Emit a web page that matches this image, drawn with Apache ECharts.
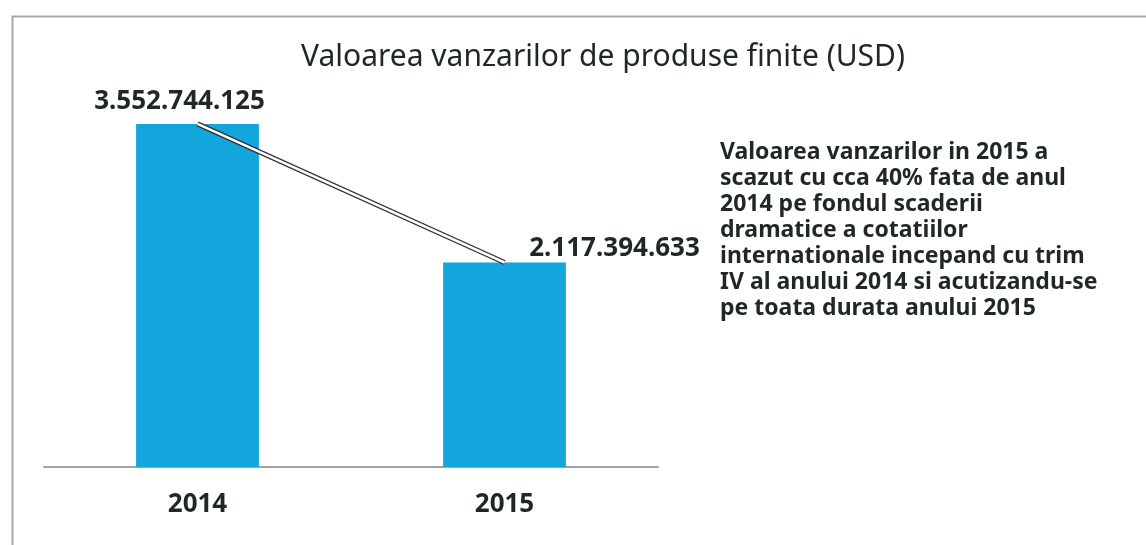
<!DOCTYPE html>
<html>
<head>
<meta charset="utf-8">
<script src="https://cdn.jsdelivr.net/npm/echarts@6/dist/echarts.min.js"></script>
<style>
  html, body { margin: 0; padding: 0; background: #fff; }
  #chart { width: 1146px; height: 545px; }
</style>
</head>
<body>
<div id="chart"></div>
<script>
// datele graficului
const years = ['2014', '2015']
const sales = [3552744125, 2117394633]
const note = [
  'Valoarea vanzarilor in 2015 a',
  'scazut cu cca 40% fata de anul',
  '2014 pe fondul scaderii',
  'dramatice a cotatiilor',
  'internationale incepand cu trim',
  'IV al anului 2014 si acutizandu-se',
  'pe toata durata anului 2015'
]

const font = '"Noto Sans", "DejaVu Sans", sans-serif'
const textColor = '#1f2727'

// 3552744125 -> 3.552.744.125
const fmt = v => String(v).replace(/\B(?=(\d{3})+(?!\d))/g, '.')

// pozitia etichetelor fata de varful barei
const labelOffsets = [[-18, -9], [110, -1]]

const chart = echarts.init(document.getElementById('chart'))

const option = {
  animation: false,
  title: {
    text: 'Valoarea vanzarilor de produse finite (USD)',
    left: 598,
    top: 37,
    textAlign: 'center',
    textStyle: {
      fontFamily: font,
      fontSize: 30,
      fontWeight: 'normal',
      color: textColor
    }
  },
  grid: { left: 44, right: 488, top: 100, bottom: 78 },
  xAxis: {
    type: 'category',
    data: years,
    axisLine: { lineStyle: { color: '#a3a3a3', width: 2 } },
    axisTick: { show: false },
    axisLabel: {
      margin: 25,
      fontFamily: font,
      fontSize: 26,
      fontWeight: 'bold',
      lineHeight: 26,
      color: textColor
    }
  },
  yAxis: {
    type: 'value',
    min: 0,
    max: 3800000000,
    show: false,
    splitLine: { show: false }
  },
  series: [
    {
      type: 'bar',
      barWidth: '40%',
      itemStyle: { color: '#12a6dc' },
      data: sales.map((v, i) => ({
        value: v,
        label: {
          show: true,
          position: 'top',
          distance: 0,
          offset: labelOffsets[i],
          formatter: p => fmt(p.value),
          fontFamily: font,
          fontSize: 26,
          fontWeight: 'bold',
          lineHeight: 26,
          color: textColor
        }
      })),
      z: 2
    },
    {
      // contur inchis al liniei
      type: 'line',
      data: sales,
      symbol: 'none',
      lineStyle: { color: '#2e2e2e', width: 5 },
      z: 3
    },
    {
      // interiorul alb al liniei
      type: 'line',
      data: sales,
      symbol: 'none',
      lineStyle: { color: '#ffffff', width: 2.5 },
      z: 4
    }
  ],
  graphic: [
    {
      type: 'rect',
      left: 10,
      top: 14,
      shape: { width: 1200, height: 600 },
      style: { fill: 'none', stroke: '#a8a8aa', lineWidth: 2 },
      silent: true
    },
    {
      type: 'text',
      left: 720,
      top: 139,
      style: {
        text: note.join('\n'),
        fontFamily: font,
        fontSize: 23,
        fontWeight: 'bold',
        lineHeight: 26,
        fill: textColor
      }
    }
  ]
}

chart.setOption(option)
window.addEventListener('resize', () => chart.resize())
</script>
</body>
</html>
